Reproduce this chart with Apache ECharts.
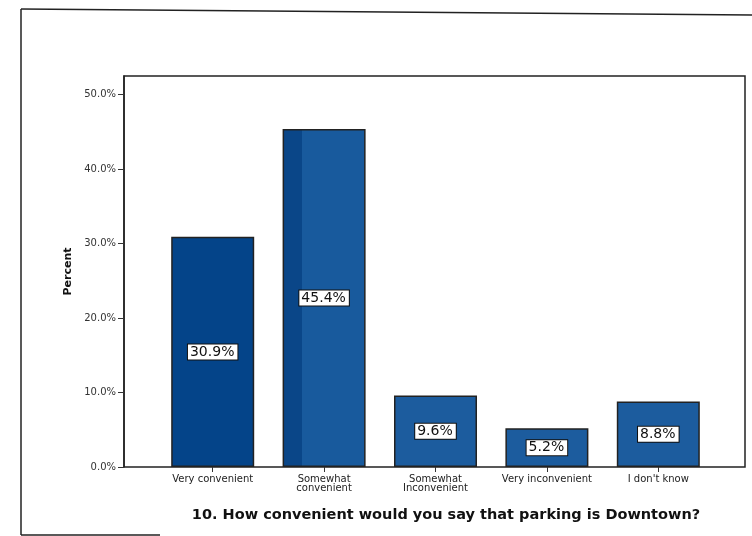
<!DOCTYPE html>
<html>
<head>
<meta charset="utf-8">
<script src="https://cdn.jsdelivr.net/npm/echarts@6/dist/echarts.min.js"></script>
<style>
html,body{margin:0;padding:0;background:#fff;}
#c{width:752px;height:536px;}
</style>
</head>
<body>
<div id="c"></div>
<script>
const categories = ['Very convenient', 'Somewhat\nconvenient', 'Somewhat\nInconvenient', 'Very inconvenient', "I don't know"];
const percentValues = [30.9, 45.4, 9.6, 5.2, 8.8];
const yTickValues = [0, 10, 20, 30, 40, 50];
const chartTitle = '10. How convenient would you say that parking is Downtown?';
const yAxisTitle = 'Percent';

const barColors = [
  '#044489',
  {type:'linear',x:0,y:0,x2:1,y2:0,colorStops:[
    {offset:0,color:'#0a4688'},{offset:0.23,color:'#0a4688'},
    {offset:0.23,color:'#185a9d'},{offset:1,color:'#185a9d'}]},
  '#1c5c9e', '#1c5c9e', '#1c5c9e'
];

const chart = echarts.init(document.getElementById('c'), null, {renderer:'canvas'});
chart.setOption({
  backgroundColor:'#fff',
  animation:false,
  title:{
    text: chartTitle, left: 441, top: 503, textAlign:'center',
    textStyle:{fontFamily:'DejaVu Sans', fontWeight:'bold', fontSize:14.5, color:'#111'}
  },
  grid:[
    {left:124, top:76, width:621, height:391, show:true, borderColor:'#222', borderWidth:1.5, backgroundColor:'transparent'},
    {left:157, top:76, width:557, height:391}
  ],
  xAxis:[
    {gridIndex:0, type:'value', show:false, min:0, max:1},
    {gridIndex:1, type:'category', data:categories,
      axisLine:{show:false},
      axisTick:{show:true, alignWithLabel:true, length:5, lineStyle:{color:'#333'}},
      axisLabel:{fontFamily:'DejaVu Sans', fontSize:10, lineHeight:9, color:'#222', margin:8, interval:0}}
  ],
  yAxis:[
    {gridIndex:0, type:'value', min:0, max:52.5, interval:10,
      name: yAxisTitle, nameLocation:'middle', nameGap:50,
      nameTextStyle:{fontFamily:'DejaVu Sans', fontWeight:'bold', fontSize:11, color:'#111'},
      axisLine:{show:true, lineStyle:{color:'#222', width:1.5}},
      axisTick:{show:true, length:6, customValues: yTickValues, lineStyle:{color:'#333'}},
      axisLabel:{customValues: yTickValues, formatter:v=>v.toFixed(1)+'%', fontFamily:'DejaVu Sans', fontSize:10, color:'#333', margin:8},
      splitLine:{show:false}},
    {gridIndex:1, type:'value', min:0, max:52.5, show:false, splitLine:{show:false}}
  ],
  series:[{
    type:'bar', xAxisIndex:1, yAxisIndex:1, barWidth:83,
    data: percentValues.map((v,i)=>({value:v, itemStyle:{color:barColors[i]}})),
    itemStyle:{borderColor:'#222', borderWidth:1.5},
    label:{show:true, position:'inside', formatter:p=>p.value.toFixed(1)+'%',
      backgroundColor:'#fff', borderColor:'#111', borderWidth:1, padding:[1,3,0,2],
      fontFamily:'DejaVu Sans', fontSize:14, color:'#111'}
  }],
  graphic:[
    {type:'line', shape:{x1:21,y1:9,x2:752,y2:15}, style:{stroke:'#222', lineWidth:1.5}},
    {type:'line', shape:{x1:21,y1:9,x2:21,y2:535}, style:{stroke:'#222', lineWidth:1.5}},
    {type:'line', shape:{x1:21,y1:535,x2:160,y2:535}, style:{stroke:'#222', lineWidth:1.5}}
  ]
});
</script>
</body>
</html>
